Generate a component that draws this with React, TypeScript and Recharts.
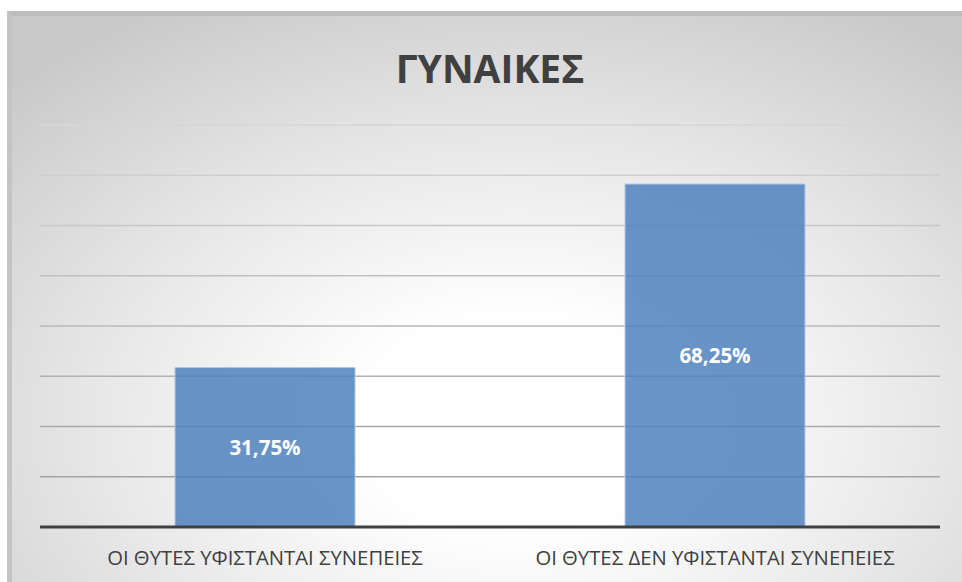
import { Bar, BarChart, CartesianGrid, LabelList, XAxis, YAxis } from "recharts";

const categories = ["ΟΙ ΘΥΤΕΣ ΥΦΙΣΤΑΝΤΑΙ ΣΥΝΕΠΕΙΕΣ", "ΟΙ ΘΥΤΕΣ ΔΕΝ ΥΦΙΣΤΑΝΤΑΙ ΣΥΝΕΠΕΙΕΣ"];
const percentages = [31.75, 68.25];
const yTicks = [0, 10, 20, 30, 40, 50, 60, 70, 80];

const data = categories.map((name, i) => ({ name, value: percentages[i] }));

const FONT = "'Open Sans', 'DejaVu Sans', sans-serif";

const formatPct = (v: number) => `${v.toFixed(2).replace(".", ",")}%`;

export default function App() {
  return (
    <div style={{ position: "fixed", left: 0, top: 0, width: 962, height: 582, background: "#fff" }}>
      <div
        style={{
          position: "absolute",
          left: 7,
          top: 11,
          width: 955,
          height: 571,
          boxSizing: "border-box",
          borderTop: "5px solid #bdbdbd",
          borderLeft: "5px solid #c4c4c4",
          background:
            "radial-gradient(ellipse 75% 85% at 53% 72%, #ffffff 0%, #ffffff 22%, #e8e8e8 58%, #c9c9c9 100%)",
        }}
      />
      <div
        style={{
          position: "absolute",
          left: 0,
          top: 40,
          width: 980,
          textAlign: "center",
          fontFamily: FONT,
          fontWeight: 700,
          fontSize: 39,
          color: "#404040",
          lineHeight: "56px",
        }}
      >
        ΓΥΝΑΙΚΕΣ
      </div>
      <div style={{ position: "absolute", left: 0, top: 0 }}>
        <BarChart
          width={962}
          height={582}
          data={data}
          margin={{ top: 125, right: 22, bottom: 0, left: 40 }}
          barCategoryGap="30%"
        >
          <defs>
            <linearGradient id="gridFade" gradientUnits="userSpaceOnUse" x1="0" y1="125" x2="0" y2="480">
              <stop offset="0%" stopColor="#d6d6d6" />
              <stop offset="100%" stopColor="#a3a3a3" />
            </linearGradient>
          </defs>
          <CartesianGrid vertical={false} stroke="url(#gridFade)" strokeWidth={1.5} />
          <YAxis hide domain={[0, 80]} ticks={yTicks} />
          <XAxis
            dataKey="name"
            height={55}
            tickLine={false}
            tickSize={0}
            tickMargin={24}
            axisLine={{ stroke: "#404040", strokeWidth: 3 }}
            tick={{ fill: "#404040", fontSize: 20.3, fontFamily: FONT }}
            interval={0}
          />
          <Bar
            dataKey="value"
            fill="#4f81bd"
            fillOpacity={0.85}
            stroke="#b3c7e3"
            strokeWidth={1}
            isAnimationActive={false}
          >
            <LabelList
              dataKey="value"
              position="center"
              formatter={(v: number) => formatPct(v)}
              fill="#ffffff"
              style={{ fontFamily: FONT, fontWeight: 700, fontSize: 20.5 }}
            />
          </Bar>
        </BarChart>
      </div>
    </div>
  );
}
